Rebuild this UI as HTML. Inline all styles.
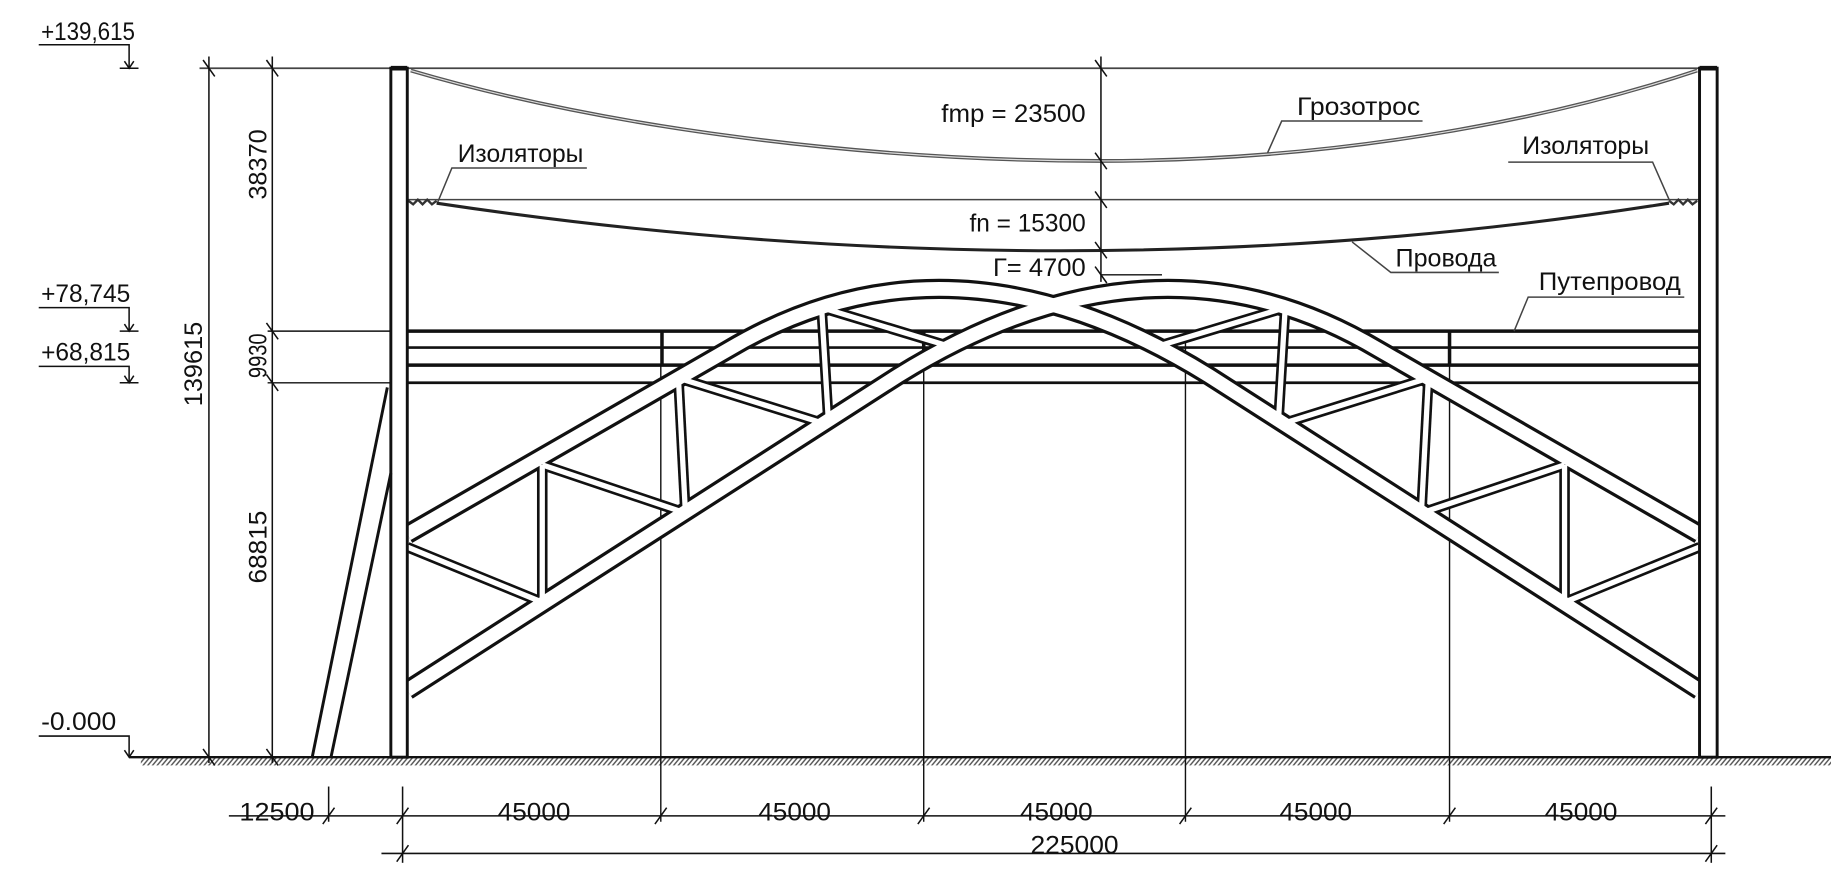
<!DOCTYPE html>
<html><head><meta charset="utf-8"><style>
html,body{margin:0;padding:0;background:#fff;}
svg{display:block;}
text{font-family:"Liberation Sans",sans-serif;fill:#111;}
</style></head><body>
<svg width="1831" height="870" viewBox="0 0 1560 741" xmlns="http://www.w3.org/2000/svg">
<defs>
<pattern id="h" width="4" height="7" patternUnits="userSpaceOnUse" patternTransform="skewX(-40)">
<rect width="4" height="7" fill="#fff"/><line x1="1" y1="0" x2="1" y2="7" stroke="#555" stroke-width="1.6"/>
</pattern>
</defs>
<g stroke="#111" fill="none" stroke-linecap="butt">
<rect x="120" y="645" width="1440" height="7" fill="url(#h)" stroke="none"/>
<line x1="110" y1="645" x2="1560" y2="645" stroke-width="2"/>
<line x1="170" y1="58" x2="1463" y2="58" stroke="#444" stroke-width="1.5"/>
<line x1="347" y1="170" x2="1448" y2="170" stroke="#444" stroke-width="1.3"/>
<line x1="178" y1="48" x2="178" y2="650" stroke-width="1.3"/>
<line x1="232" y1="48" x2="232" y2="650" stroke-width="1.3"/>
<line x1="228" y1="282" x2="347" y2="282" stroke-width="1.2"/>
<line x1="228" y1="326" x2="347" y2="326" stroke-width="1.2"/>
<g stroke-width="1.3">
<line x1="173" y1="51" x2="183" y2="65"/><line x1="173" y1="638" x2="183" y2="652"/>
<line x1="227" y1="51" x2="237" y2="65"/><line x1="227" y1="275" x2="237" y2="289"/>
<line x1="227" y1="319" x2="237" y2="333"/><line x1="227" y1="638" x2="237" y2="652"/>
</g>
<g stroke-width="1.3">
<polyline points="33,38 110,38 110,58"/><line x1="102" y1="58" x2="118" y2="58"/><polyline points="106,52 110,58 114,52"/>
<polyline points="33,262 110,262 110,282"/><line x1="102" y1="282" x2="118" y2="282"/><polyline points="106,276 110,282 114,276"/>
<polyline points="33,312 110,312 110,326"/><line x1="102" y1="326" x2="118" y2="326"/><polyline points="106,320 110,326 114,320"/>
<polyline points="33,627 110,627 110,645"/><polyline points="106,639 110,645 114,639"/>
</g>
<line x1="347" y1="282" x2="1448" y2="282" stroke-width="3"/>
<line x1="347" y1="296" x2="1448" y2="296" stroke-width="2.2"/>
<line x1="347" y1="311" x2="1448" y2="311" stroke-width="3"/>
<line x1="347" y1="326" x2="1448" y2="326" stroke-width="2.4"/>
<line x1="564" y1="282" x2="564" y2="311" stroke-width="3"/>
<line x1="787" y1="282" x2="787" y2="311" stroke-width="3"/>
<line x1="1235" y1="282" x2="1235" y2="311" stroke-width="3"/>
<g stroke-width="1.2">
<line x1="563" y1="311" x2="563" y2="700"/><line x1="787" y1="311" x2="787" y2="700"/>
<line x1="1010" y1="282" x2="1010" y2="700"/><line x1="1235" y1="311" x2="1235" y2="700"/>
</g>
<path d="M350,60 C520,110 740,137 938,137 C1130,137 1310,105 1446,60" stroke="#555" stroke-width="3.2"/>
<path d="M350,60 C520,110 740,137 938,137 C1130,137 1310,105 1446,60" stroke="#ddd" stroke-width="1"/>
<path d="M372,173 Q912,254 1422,173" stroke="#222" stroke-width="2.6"/>
<path d="M348,171 l4,3 l4,-4 l4,4 l4,-4 l4,4 l4,-3" stroke="#333" stroke-width="2"/>
<path d="M1422,171 l4,3 l4,-4 l4,4 l4,-4 l4,4 l4,-3" stroke="#333" stroke-width="2"/>
<line x1="938" y1="48" x2="938" y2="240" stroke-width="1.3"/>
<g stroke-width="1.3">
<line x1="933" y1="51" x2="943" y2="65"/><line x1="933" y1="130" x2="943" y2="144"/>
<line x1="933" y1="163" x2="943" y2="177"/><line x1="933" y1="206" x2="943" y2="220"/>
<line x1="933" y1="227" x2="943" y2="241"/>
</g>
<line x1="938" y1="234" x2="990" y2="234" stroke-width="1.2"/>
<g stroke="#444" stroke-width="1.3">
<polyline points="1212,103 1092,103 1080,130"/>
<polyline points="500,143 385,143 373,172"/>
<polyline points="1285,138 1408,138 1423,172"/>
<polyline points="1277,232 1185,232 1152,206"/>
<polyline points="1435,253 1302,253 1290,282"/>
</g>
<g stroke="#111" stroke-width="17" stroke-linejoin="round">
<path d="M347,455 L620,298 Q811,184 1030,320 L1448,588"/>
<path d="M1448,455 L1175,298 Q984,184 765,320 L347,588"/>
</g>
<g stroke="#111" stroke-width="9">
<line x1="347" y1="466" x2="462" y2="513"/><line x1="462" y1="396" x2="462" y2="513"/>
<line x1="462" y1="396" x2="584" y2="437"/><line x1="578" y1="322" x2="584" y2="437"/>
<line x1="578" y1="322" x2="706" y2="362"/><line x1="700" y1="262" x2="706" y2="362"/>
<line x1="700" y1="262" x2="809" y2="295"/>
<line x1="1448" y1="466" x2="1333" y2="513"/><line x1="1333" y1="396" x2="1333" y2="513"/>
<line x1="1333" y1="396" x2="1211" y2="437"/><line x1="1217" y1="322" x2="1211" y2="437"/>
<line x1="1217" y1="322" x2="1089" y2="362"/><line x1="1095" y1="262" x2="1089" y2="362"/>
<line x1="1095" y1="262" x2="986" y2="295"/>
</g>
<g stroke="#fff" stroke-width="4.5">
<line x1="347" y1="466" x2="462" y2="513"/><line x1="462" y1="396" x2="462" y2="513"/>
<line x1="462" y1="396" x2="584" y2="437"/><line x1="578" y1="322" x2="584" y2="437"/>
<line x1="578" y1="322" x2="706" y2="362"/><line x1="700" y1="262" x2="706" y2="362"/>
<line x1="700" y1="262" x2="809" y2="295"/>
<line x1="1448" y1="466" x2="1333" y2="513"/><line x1="1333" y1="396" x2="1333" y2="513"/>
<line x1="1333" y1="396" x2="1211" y2="437"/><line x1="1217" y1="322" x2="1211" y2="437"/>
<line x1="1217" y1="322" x2="1089" y2="362"/><line x1="1095" y1="262" x2="1089" y2="362"/>
<line x1="1095" y1="262" x2="986" y2="295"/>
</g>
<g stroke="#fff" stroke-width="11.5" stroke-linejoin="round">
<path d="M347,455 L620,298 Q811,184 1030,320 L1448,588"/>
<path d="M1448,455 L1175,298 Q984,184 765,320 L347,588"/>
</g>
<rect x="333" y="58" width="14" height="587" fill="#fff" stroke-width="2.5"/>
<rect x="1448" y="58" width="15" height="587" fill="#fff" stroke-width="2.5"/>
<line x1="333" y1="58" x2="347" y2="58" stroke-width="4"/>
<line x1="1448" y1="58" x2="1463" y2="58" stroke-width="4"/>
<line x1="266" y1="645" x2="330" y2="330" stroke-width="2.5"/>
<line x1="282" y1="645" x2="333" y2="403" stroke-width="2.5"/>
<g stroke-width="1.3">
<line x1="195" y1="695" x2="1470" y2="695"/>
<line x1="325" y1="727" x2="1470" y2="727"/>
<line x1="280" y1="670" x2="280" y2="700"/>
<line x1="343" y1="670" x2="343" y2="735"/>
<line x1="1458" y1="670" x2="1458" y2="735"/>
<line x1="275" y1="702" x2="285" y2="688"/><line x1="338" y1="702" x2="348" y2="688"/>
<line x1="558" y1="702" x2="568" y2="688"/><line x1="782" y1="702" x2="792" y2="688"/>
<line x1="1005" y1="702" x2="1015" y2="688"/><line x1="1230" y1="702" x2="1240" y2="688"/>
<line x1="1453" y1="702" x2="1463" y2="688"/>
<line x1="338" y1="734" x2="348" y2="720"/><line x1="1453" y1="734" x2="1463" y2="720"/>
</g>
</g>
<g font-size="21">
<text x="35" y="34" textLength="80" lengthAdjust="spacingAndGlyphs">+139,615</text>
<text x="35" y="257" textLength="76" lengthAdjust="spacingAndGlyphs">+78,745</text>
<text x="35" y="307" textLength="76" lengthAdjust="spacingAndGlyphs">+68,815</text>
<text x="35" y="622" textLength="64" lengthAdjust="spacingAndGlyphs">-0.000</text>
<text transform="translate(227,140) rotate(-90)" text-anchor="middle" textLength="60" lengthAdjust="spacingAndGlyphs">38370</text>
<text transform="translate(227,303) rotate(-90)" text-anchor="middle" textLength="38" lengthAdjust="spacingAndGlyphs">9930</text>
<text transform="translate(227,466) rotate(-90)" text-anchor="middle" textLength="62" lengthAdjust="spacingAndGlyphs">68815</text>
<text transform="translate(172,310) rotate(-90)" text-anchor="middle" textLength="72" lengthAdjust="spacingAndGlyphs">139615</text>
<text x="802" y="104" textLength="123" lengthAdjust="spacingAndGlyphs">fmp = 23500</text>
<text x="826" y="197" textLength="99" lengthAdjust="spacingAndGlyphs">fn = 15300</text>
<text x="846" y="235" textLength="79" lengthAdjust="spacingAndGlyphs">Г= 4700</text>
<text x="1105" y="98" textLength="105" lengthAdjust="spacingAndGlyphs">Грозотрос</text>
<text x="390" y="138" textLength="107" lengthAdjust="spacingAndGlyphs">Изоляторы</text>
<text x="1297" y="131" textLength="108" lengthAdjust="spacingAndGlyphs">Изоляторы</text>
<text x="1189" y="227" textLength="86" lengthAdjust="spacingAndGlyphs">Провода</text>
<text x="1311" y="247" textLength="121" lengthAdjust="spacingAndGlyphs">Путепровод</text>
<text x="204" y="699" textLength="64" lengthAdjust="spacingAndGlyphs">12500</text>
<text x="424" y="699" textLength="62" lengthAdjust="spacingAndGlyphs">45000</text>
<text x="646" y="699" textLength="62" lengthAdjust="spacingAndGlyphs">45000</text>
<text x="869" y="699" textLength="62" lengthAdjust="spacingAndGlyphs">45000</text>
<text x="1090" y="699" textLength="62" lengthAdjust="spacingAndGlyphs">45000</text>
<text x="1316" y="699" textLength="62" lengthAdjust="spacingAndGlyphs">45000</text>
<text x="878" y="727" textLength="75" lengthAdjust="spacingAndGlyphs">225000</text>
</g>
</svg>
</body></html>
